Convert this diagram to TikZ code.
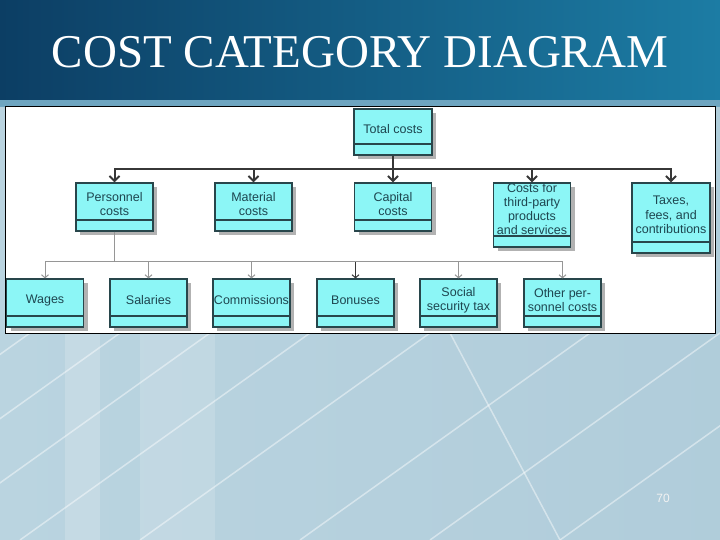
\documentclass[tikz,border=0pt]{standalone}
\usepackage{fontspec}
\setmainfont{Liberation Serif}
\newfontfamily\boxfont{Liberation Sans}
\usetikzlibrary{arrows.meta,shadows}
\definecolor{boxfill}{RGB}{140,246,246}
\definecolor{boxline}{RGB}{40,70,75}
\definecolor{boxtext}{RGB}{30,70,80}
\definecolor{banddark}{RGB}{12,62,100}
\definecolor{bandlight}{RGB}{28,124,164}
\definecolor{bandedge}{RGB}{110,165,192}
\definecolor{skylight}{RGB}{186,212,224}
\definecolor{skymid}{RGB}{120,162,186}
\definecolor{linkdark}{RGB}{55,55,55}
\definecolor{linklight}{RGB}{150,150,150}

\begin{document}
\begin{tikzpicture}[x=1pt, y=-1pt,
    cbox/.style={draw=boxline, line width=1.2pt, fill=boxfill, minimum width=77pt, minimum height=48pt, inner sep=0pt,
      drop shadow={shadow xshift=4pt, shadow yshift=-4pt, fill=black!30, opacity=1},
      path picture={\draw[boxline, line width=1.2pt] ([yshift=11pt]path picture bounding box.south west) -- ([yshift=11pt]path picture bounding box.south east);}},
    ctext/.style={align=center, text=boxtext, font=\boxfont\fontsize{12.5}{14.3}\selectfont, yshift=3pt},
    arrowA/.style={-{Straight Barb[length=5pt,width=10pt]}, draw=linkdark, line width=2pt},
    arrowB/.style={-{Straight Barb[length=3pt,width=7pt]}, draw=linklight, line width=1pt}
  ]
    \useasboundingbox (0,0) rectangle (720,540);
    % slide background
    \shade[left color=skylight, middle color=skymid, right color=skylight!85!skymid] (0,100) rectangle (720,540);
    \fill[white, opacity=0.18] (65,333) rectangle (100,540);
    \fill[white, opacity=0.15] (140,333) rectangle (215,540);
    \begin{scope}[white, opacity=0.45, line width=1.5pt]
      \foreach \s in {-260,-170,-80,20,140,300,430,560}
        \draw (\s,540) -- (\s+290,333);
      \draw (450,333) -- (560,540);
    \end{scope}
    \shade[left color=banddark, right color=bandlight] (0,0) rectangle (720,101);
    \fill[bandedge] (0,100) rectangle (720,107);
    \node[font=\fontsize{47}{47}\selectfont, text=white] (title) at (360,52) {COST CATEGORY DIAGRAM};
    \node[font=\boxfont\fontsize{12}{12}\selectfont, text=white!90!gray] (pagenum) at (663,498) {70};
    % diagram panel
    \draw[fill=white, line width=1pt] (5,107) rectangle (715,333);

    \node[cbox, minimum width=78pt, minimum height=46pt, label={[ctext]center:Total costs}] (total) at (393,132) {};

    \node[cbox, label={[ctext]center:{Personnel\\costs}}] (personnel) at (114.5,207) {};
    \node[cbox, label={[ctext]center:{Material\\costs}}] (material) at (253.5,207) {};
    \node[cbox, label={[ctext]center:{Capital\\costs}}] (capital) at (393,207) {};
    \node[cbox, minimum height=64pt, label={[ctext, yshift=3pt]center:{Costs for\\third-party\\products\\and services}}] (thirdparty) at (532,215) {};
    \node[cbox, minimum width=78pt, minimum height=70pt, label={[ctext]center:{Taxes,\\fees, and\\contributions}}] (taxes) at (671,218) {};

    \node[cbox, label={[ctext]center:Wages}] (wages) at (45,303) {};
    \node[cbox, label={[ctext]center:Salaries}] (salaries) at (148.5,303) {};
    \node[cbox, label={[ctext]center:Commissions}] (commissions) at (251.5,303) {};
    \node[cbox, label={[ctext]center:Bonuses}] (bonuses) at (355.5,303) {};
    \node[cbox, label={[ctext]center:{Social\\security tax}}] (social) at (458.5,303) {};
    \node[cbox, label={[ctext]center:{Other per-\\sonnel costs}}] (otherpers) at (562.5,303) {};

    \coordinate (bus1) at (393,169);
    \coordinate (bus2) at (114.5,261);

    \draw[arrowA] (total.south) -- (bus1) -| (personnel.north);
    \draw[arrowA] (bus1) -| (material.north);
    \draw[arrowA] (bus1) -- (capital.north);
    \draw[arrowA] (bus1) -| (thirdparty.north);
    \draw[arrowA] (bus1) -| (taxes.north);

    \draw[arrowB] (personnel.south) -- (bus2) -| (wages.north);
    \draw[arrowB] (bus2) -| (salaries.north);
    \draw[arrowB] (bus2) -| (commissions.north);
    \draw[arrowB, draw=linkdark] (bus2) -| (bonuses.north);
    \draw[arrowB] (bus2) -| (social.north);
    \draw[arrowB] (bus2) -| (otherpers.north);
  \end{tikzpicture}
\end{document}
